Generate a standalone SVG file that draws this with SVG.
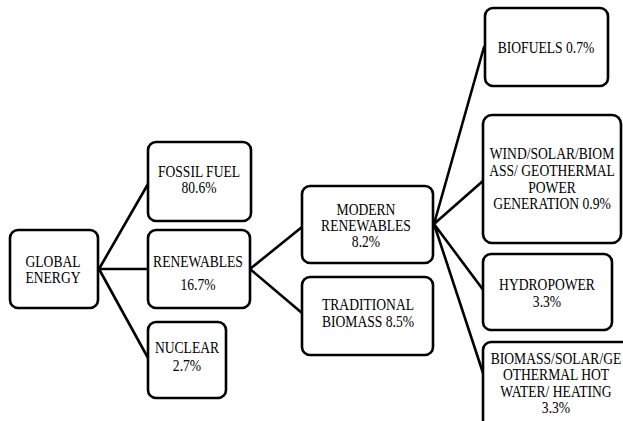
<svg xmlns="http://www.w3.org/2000/svg" width="623" height="421" viewBox="0 0 623 421">
<style>
.box{fill:#fff;stroke:#000;stroke-width:2.6}
.t{font-family:"Liberation Serif",serif;font-size:16px;fill:#000;text-anchor:middle}
.c{stroke:#000;stroke-width:2.6;fill:none;stroke-linecap:round}
</style>
<rect width="623" height="421" fill="#fff"/>
<g id="connectors">
<path class="c" d="M99 269 L148 184 M99 269 L148 269 M99 269 L148 358"/>
<path class="c" d="M250 269 L302 227 M250 269 L302 313"/>
<path class="c" d="M434 224 L484 47 M434 224 L484 180 M434 224 L484 291 M434 224 L484 376"/>
</g>
<g id="global"><rect class="box" x="10" y="230" width="88" height="78" rx="8"/>
<text class="t" transform="translate(53 267) scale(0.85 1)">GLOBAL</text>
<text class="t" transform="translate(53 283) scale(0.85 1)">ENERGY</text></g>
<g id="fossil"><rect class="box" x="148" y="142" width="103" height="79" rx="8"/>
<text class="t" transform="translate(199 177) scale(0.85 1)">FOSSIL FUEL</text>
<text class="t" transform="translate(199 193) scale(0.85 1)">80.6%</text></g>
<g id="renewables"><rect class="box" x="148" y="230" width="102" height="78" rx="8"/>
<text class="t" transform="translate(198 267) scale(0.85 1)">RENEWABLES</text>
<text class="t" transform="translate(198 290) scale(0.85 1)">16.7%</text></g>
<g id="nuclear"><rect class="box" x="148" y="322" width="78" height="76" rx="8"/>
<text class="t" transform="translate(187 353) scale(0.85 1)">NUCLEAR</text>
<text class="t" transform="translate(187 371) scale(0.85 1)">2.7%</text></g>
<g id="modern"><rect class="box" x="302" y="186" width="131" height="77" rx="8"/>
<text class="t" transform="translate(366 215) scale(0.85 1)">MODERN</text>
<text class="t" transform="translate(366 231) scale(0.85 1)">RENEWABLES</text>
<text class="t" transform="translate(366 247) scale(0.85 1)">8.2%</text></g>
<g id="traditional"><rect class="box" x="302" y="277" width="131" height="78" rx="8"/>
<text class="t" transform="translate(368 310) scale(0.85 1)">TRADITIONAL</text>
<text class="t" transform="translate(368 327) scale(0.85 1)">BIOMASS 8.5%</text></g>
<g id="biofuels"><rect class="box" x="485" y="8" width="123" height="78" rx="8"/>
<text class="t" transform="translate(546 53) scale(0.85 1)">BIOFUELS 0.7%</text></g>
<g id="wind"><rect class="box" x="483" y="115" width="138" height="128" rx="9"/>
<text class="t" transform="translate(552 159) scale(0.85 1)">WIND/SOLAR/BIOM</text>
<text class="t" transform="translate(552 176) scale(0.85 1)">ASS/ GEOTHERMAL</text>
<text class="t" transform="translate(552 193) scale(0.85 1)">POWER</text>
<text class="t" transform="translate(552 209) scale(0.85 1)">GENERATION  0.9%</text></g>
<g id="hydro"><rect class="box" x="483" y="254" width="129" height="76" rx="8"/>
<text class="t" transform="translate(547 290) scale(0.85 1)">HYDROPOWER</text>
<text class="t" transform="translate(547 307) scale(0.85 1)">3.3%</text></g>
<g id="biomass"><rect class="box" x="483" y="342" width="150" height="95" rx="8"/>
<text class="t" transform="translate(556 364) scale(0.85 1)">BIOMASS/SOLAR/GE</text>
<text class="t" transform="translate(556 380) scale(0.85 1)">OTHERMAL HOT</text>
<text class="t" transform="translate(556 397) scale(0.85 1)">WATER/ HEATING</text>
<text class="t" transform="translate(556 413) scale(0.85 1)">3.3%</text></g>
</svg>
